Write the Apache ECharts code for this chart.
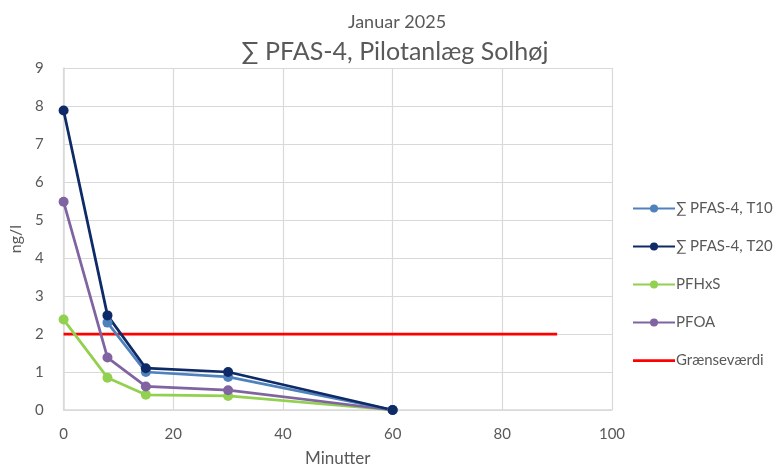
<!DOCTYPE html>
<html>
<head>
<meta charset="utf-8">
<script src="https://cdn.jsdelivr.net/npm/echarts@6/dist/echarts.min.js"></script>
<style>
  html, body { margin: 0; padding: 0; background: #fff; }
  #chart { width: 776px; height: 472px; }
</style>
</head>
<body>
<div id="chart"></div>
<script>
// data
const minutes = [0, 8, 15, 30, 60]
const t10 = [null, 2.3, 1.0, 0.87, 0]
const t20 = [7.88, 2.49, 1.1, 1.0, 0]
const pfhxs = [2.38, 0.85, 0.4, 0.37, 0]
const pfoa = [5.48, 1.38, 0.62, 0.52, 0]
const limitX = [0, 90]
const limitY = [2, 2]

const seriesNames = ["∑ PFAS-4, T10", "∑ PFAS-4, T20", "PFHxS", "PFOA", "Grænseværdi"]

function pairs(xs, ys) {
  return xs.map((x, i) => [x, ys[i]]).filter(p => p[1] !== null)
}

const font = "Lato, 'Open Sans', sans-serif"
const grey = "#595959"

const myChart = echarts.init(document.getElementById("chart"))

function lineSeries(name, data, color) {
  return {
    name: name,
    type: "line",
    data: data,
    symbol: "circle",
    symbolSize: 10,
    lineStyle: { color: color, width: 2.75 },
    itemStyle: { color: color },
    emphasis: { disabled: true },
  }
}

myChart.setOption({
  animation: false,
  textStyle: { fontFamily: font },
  title: [
    {
      text: "Januar 2025",
      left: 392,
      top: 8,
      textAlign: "center",
      textStyle: { fontSize: 18, fontWeight: "normal", color: grey, fontFamily: font },
    },
    {
      text: "∑ PFAS-4, Pilotanlæg Solhøj",
      left: 390,
      top: 34,
      textAlign: "center",
      textStyle: { fontSize: 25, fontWeight: "normal", color: grey, fontFamily: font },
    },
  ],
  legend: {
    orient: "vertical",
    left: 627,
    top: 196,
    itemGap: 23,
    itemWidth: 42,
    itemHeight: 10,
    data: seriesNames.slice(0, 4).concat([
      { name: seriesNames[4], icon: "path://M0,0 L42,0 L42,2.75 L0,2.75 Z" },
    ]),
    textStyle: { fontSize: 15, color: grey, fontFamily: font, padding: [0, 0, 0, -4] },
  },
  grid: { left: 62, right: 164, top: 68, bottom: 61 },
  xAxis: {
    type: "value",
    min: 0,
    max: 100,
    interval: 20,
    name: "Minutter",
    nameLocation: "middle",
    nameGap: 40,
    nameTextStyle: { fontSize: 17, color: grey },
    axisLine: { show: true, lineStyle: { color: "#d9d9d9", width: 1.5 } },
    axisTick: { show: false },
    axisLabel: { fontSize: 15, color: grey, margin: 17 },
    splitLine: { show: true, lineStyle: { color: "#d9d9d9", width: 1.2 } },
  },
  yAxis: {
    type: "value",
    min: 0,
    max: 9,
    interval: 1,
    name: "ng/l",
    nameLocation: "middle",
    nameGap: 38,
    nameTextStyle: { fontSize: 16, color: grey },
    axisLine: { show: true, lineStyle: { color: "#d9d9d9", width: 1.5 } },
    axisTick: { show: false },
    axisLabel: { fontSize: 15, color: grey, margin: 20 },
    splitLine: { show: true, lineStyle: { color: "#d9d9d9", width: 1.2 } },
  },
  series: [
    {
      name: seriesNames[4],
      type: "line",
      data: pairs(limitX, limitY),
      symbol: "none",
      lineStyle: { color: "#ff0000", width: 2.75 },
      itemStyle: { color: "#ff0000" },
      z: 1,
    },
    lineSeries(seriesNames[2], pairs(minutes, pfhxs), "#92d050"),
    lineSeries(seriesNames[3], pairs(minutes, pfoa), "#8064a2"),
    lineSeries(seriesNames[0], pairs(minutes, t10), "#4f81bd"),
    lineSeries(seriesNames[1], pairs(minutes, t20), "#0e2a67"),
  ],
})
</script>
</body>
</html>
